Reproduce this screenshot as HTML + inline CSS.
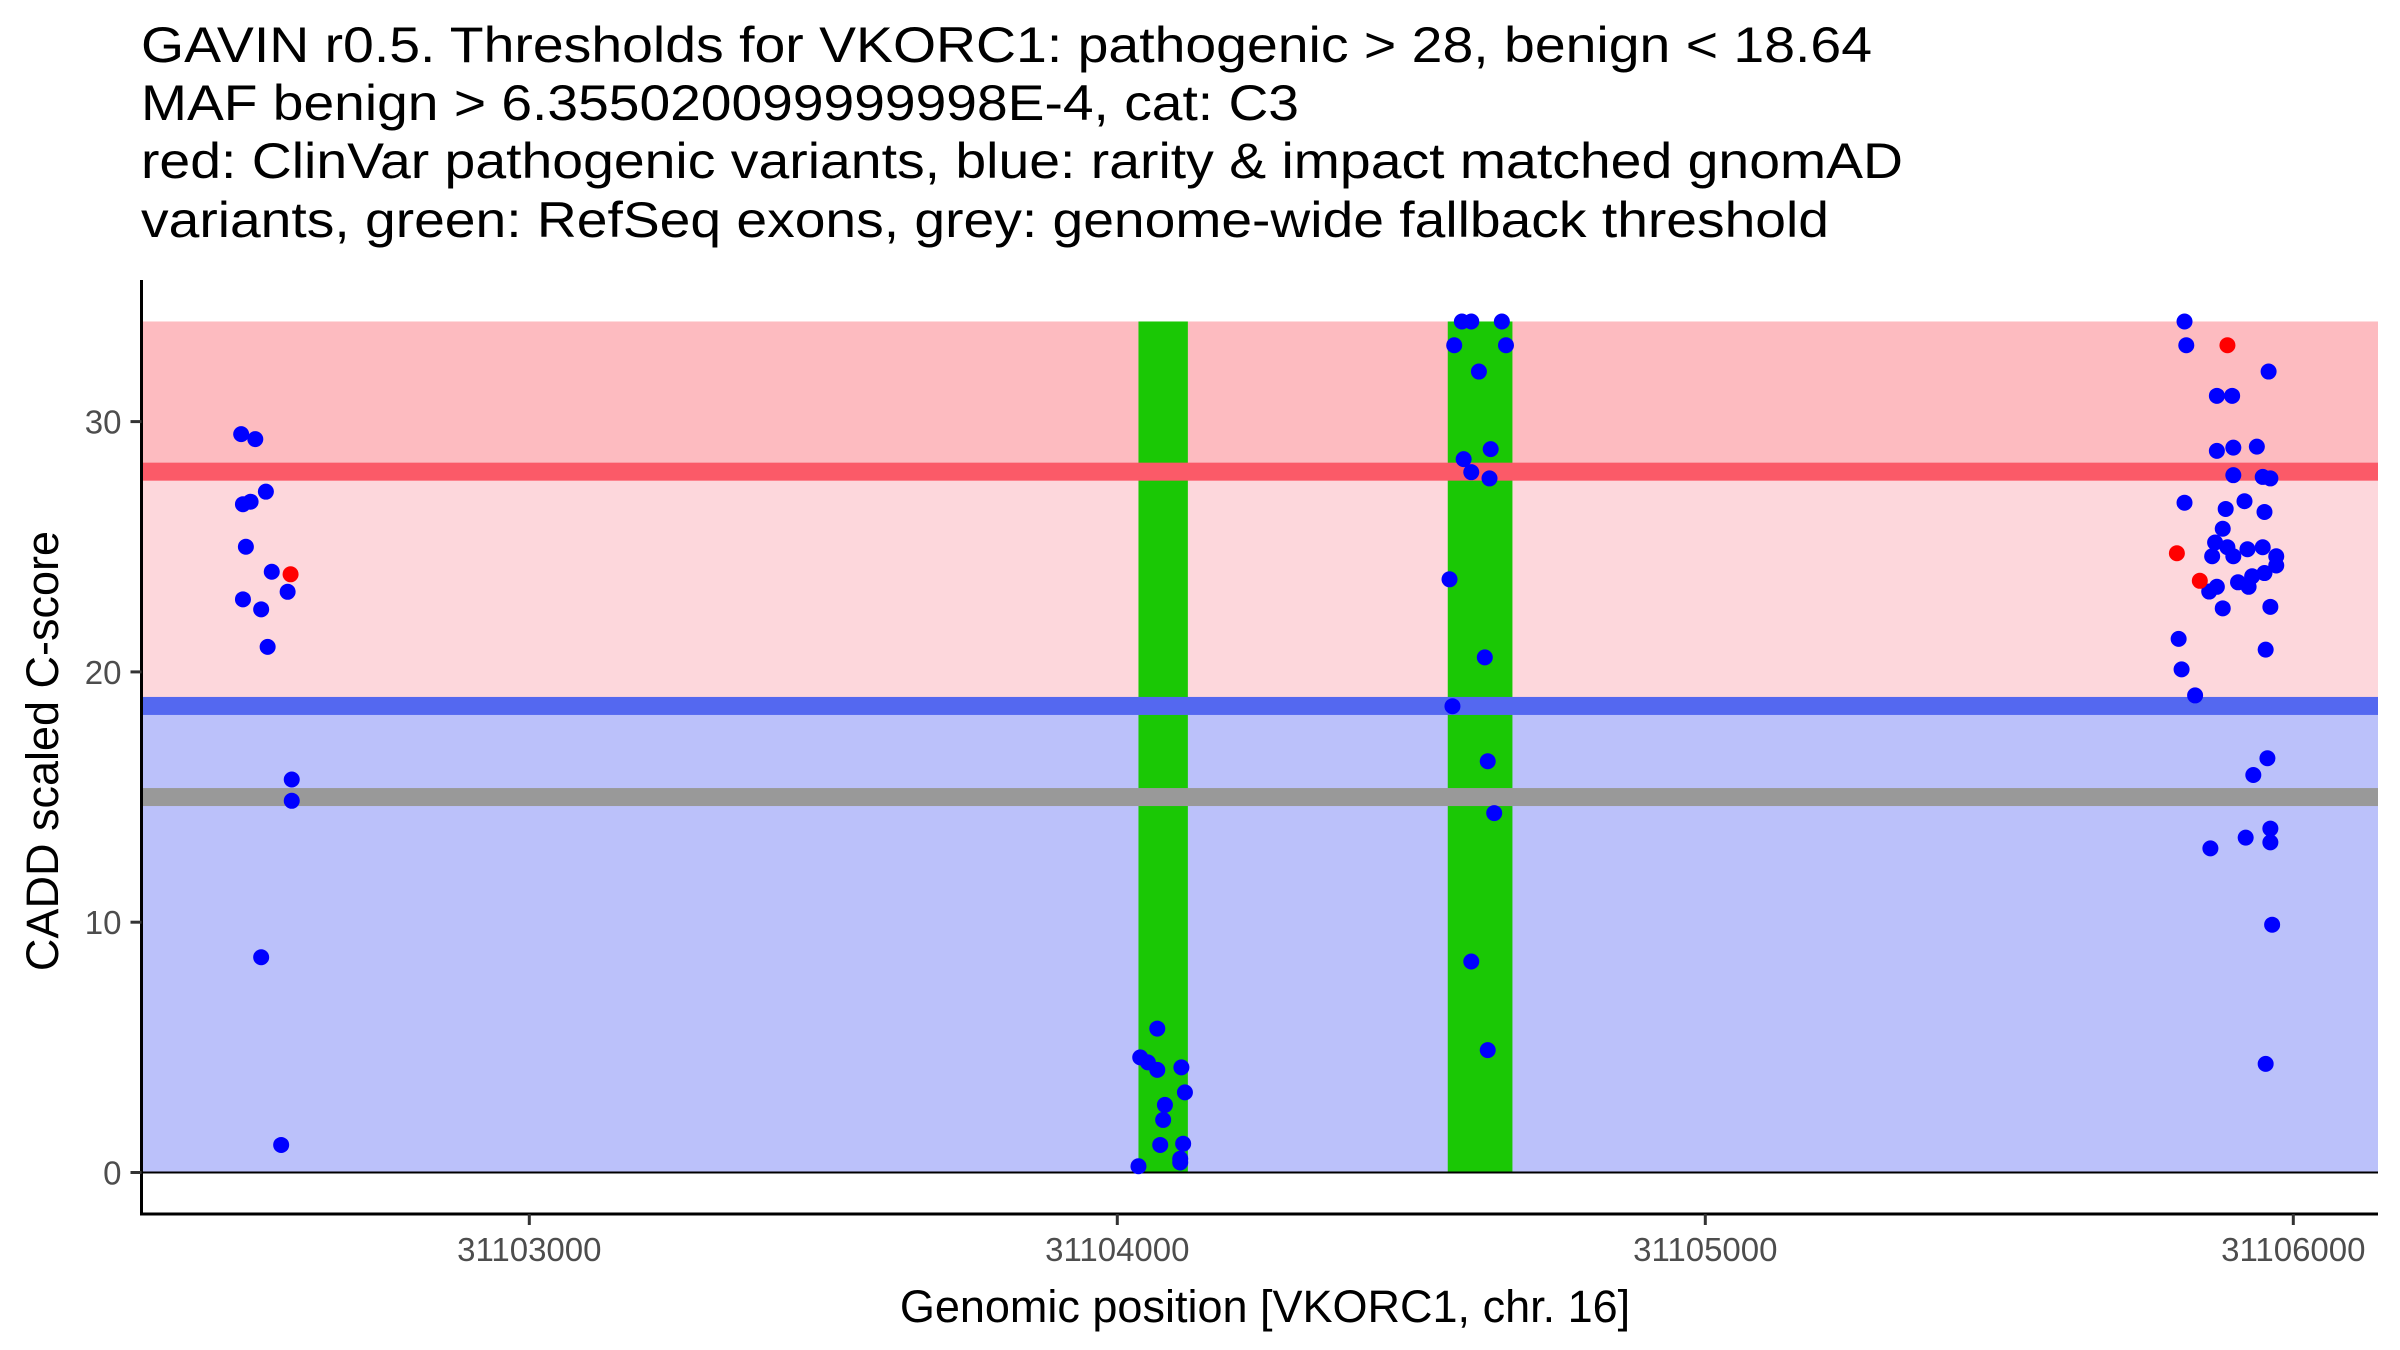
<!DOCTYPE html>
<html><head><meta charset="utf-8"><style>
html,body{margin:0;padding:0;background:#fff;}
svg{display:block;font-family:"Liberation Sans",Arial,sans-serif;}
</style></head><body>
<svg id="chart" width="2400" height="1350" viewBox="0 0 2400 1350">
<g id="title" font-size="50" fill="#000">
<text x="141" y="62" textLength="1731" lengthAdjust="spacingAndGlyphs">GAVIN r0.5. Thresholds for VKORC1: pathogenic &gt; 28, benign &lt; 18.64</text>
<text x="141" y="120" textLength="1158" lengthAdjust="spacingAndGlyphs">MAF benign &gt; 6.355020099999998E-4, cat: C3</text>
<text x="141" y="178" textLength="1762" lengthAdjust="spacingAndGlyphs">red: ClinVar pathogenic variants, blue: rarity &amp; impact matched gnomAD</text>
<text x="141" y="237" textLength="1688" lengthAdjust="spacingAndGlyphs">variants, green: RefSeq exons, grey: genome-wide fallback threshold</text>
</g>
<g id="bands"></g>
<g id="exons"></g>
<g id="lines"></g>
<g id="points"></g>
<g id="axes"></g>
<text x="1265" y="1322" font-size="45" text-anchor="middle">Genomic position [VKORC1, chr. 16]</text>
<text transform="translate(58,751) rotate(-90)" font-size="45" text-anchor="middle">CADD scaled C-score</text>
</svg>
<script>
const base = 31103000;
const blueOffsets = [-490,-466,-487,-474,-448,-482,-438,-411,-487,-456,-445,-404,-404,-456,-422,
 1068,1039,1052,1068,1109,1115,1081,1078,1073,1112,1107,1107,1036,
 1573,1586,1602,1654,1661,1615,1589,1602,1633,1635,1565,1625,1570,1630,1641,1602,1630,
 2815,2818,2870,2896,2958,2870,2898,2938,2898,2948,2961,2815,2885,2917,2951,2880,2867,2862,2888,2898,2922,2948,2971,2971,2930,2951,2906,2924,2870,2857,2880,2961,2805,2953,2810,2833,2956,2932,2859,2919,2961,2961,2964,2953];
const blueScores = [29.5,29.3,26.7,26.8,27.2,25.0,24.0,23.2,22.9,22.5,21.0,15.7,14.85,8.6,1.1,
 5.75,4.6,4.4,4.1,4.2,3.2,2.7,2.1,1.1,1.15,0.55,0.4,0.25,
 33.05,34.0,34.0,34.0,33.05,32.0,28.5,27.98,27.73,28.9,23.7,20.58,18.63,16.43,14.36,8.43,4.89,
 34.0,33.05,31.03,31.03,32.0,28.83,28.96,29.0,27.86,27.79,27.73,26.76,26.51,26.82,26.39,25.72,25.17,24.62,24.98,24.62,24.9,24.98,24.62,24.25,23.82,23.95,23.58,23.4,23.4,23.21,22.54,22.6,21.32,20.89,20.1,19.06,16.55,15.88,12.95,13.38,13.74,13.19,9.9,4.34];
const redOffsets = [-406,2888,2802,2841];
const redScores = [23.9,33.05,24.74,23.64];
const exonStarts = [31104036,31104562];
const exonEnds = [31104120,31104672];
const pathogenicThreshold = 28;
const benignThreshold = 18.64;
const fallbackThreshold = 15;
const bandTop = 34;
const xTicks = [31103000,31104000,31105000,31106000];
const yTicks = [0,10,20,30];

const NS = "http://www.w3.org/2000/svg";
const PL = 141.5, PR = 2378, PB = 1214;
function xs(v){ return 529.3 + (v - 31103000) * 0.588; }
function ys(v){ return 1172.5 - v * 25.03; }
function mk(tag, attrs, parent){
  const e = document.createElementNS(NS, tag);
  for (const k in attrs) e.setAttribute(k, attrs[k]);
  parent.appendChild(e); return e;
}
const bands = document.getElementById('bands');
let r;
r = mk('rect',{x:PL,y:ys(bandTop),width:PR-PL,height:ys(pathogenicThreshold)-ys(bandTop),fill:'#fdbbc0'},bands);


r = mk('rect',{x:PL,y:ys(pathogenicThreshold),width:PR-PL,height:ys(benignThreshold)-ys(pathogenicThreshold),fill:'#fdd7dc'},bands);


r = mk('rect',{x:PL,y:ys(benignThreshold),width:PR-PL,height:ys(0)-ys(benignThreshold),fill:'#bbc1fa'},bands);



const lines = document.getElementById('lines');
function hline(v,color,name){
  const l = mk('rect',{x:PL,y:ys(v)-9,width:PR-PL,height:18,fill:color},lines);
  
  
}
hline(pathogenicThreshold,'#fb5a68','pathogenic-threshold-line');
hline(benignThreshold,'#5468f0','benign-threshold-line');
hline(fallbackThreshold,'#999999','fallback-threshold-line');
const zl = mk('line',{x1:PL,x2:PR,y1:ys(0),y2:ys(0),stroke:'#000','stroke-width':2},lines);



const exons = document.getElementById('exons');
for (let i=0;i<exonStarts.length;i++){
  const e = mk('rect',{x:xs(exonStarts[i]),y:ys(bandTop),width:xs(exonEnds[i])-xs(exonStarts[i]),height:ys(0)-ys(bandTop),fill:'#1ac805'},exons);
  
  
}

const pts = document.getElementById('points');
for (let i=0;i<blueOffsets.length;i++){
  const c = mk('circle',{cx:xs(base+blueOffsets[i]),cy:ys(blueScores[i]),r:8,fill:'#0000ff'},pts);
  
  
}
for (let i=0;i<redOffsets.length;i++){
  const c = mk('circle',{cx:xs(base+redOffsets[i]),cy:ys(redScores[i]),r:8,fill:'#ff0000'},pts);
  
  
}

const axes = document.getElementById('axes');
const ya = mk('line',{x1:PL,x2:PL,y1:280,y2:PB+1.5,stroke:'#000','stroke-width':3},axes);


const xa = mk('line',{x1:PL-1.5,x2:PR,y1:PB,y2:PB,stroke:'#000','stroke-width':3},axes);


yTicks.forEach(v=>{
  const t = mk('line',{x1:PL-11,x2:PL,y1:ys(v),y2:ys(v),stroke:'#333','stroke-width':3},axes);
  
  
  const tx = mk('text',{x:PL-20,y:ys(v)+12,'font-size':33,fill:'#4d4d4d','text-anchor':'end'},axes);
  tx.textContent = v;
  
  
});
xTicks.forEach(v=>{
  const t = mk('line',{x1:xs(v),x2:xs(v),y1:PB,y2:PB+11,stroke:'#333','stroke-width':3},axes);
  
  
  const tx = mk('text',{x:xs(v),y:PB+47,'font-size':33,fill:'#4d4d4d','text-anchor':'middle'},axes);
  tx.textContent = v;
  
  
});
</script>
</body></html>
